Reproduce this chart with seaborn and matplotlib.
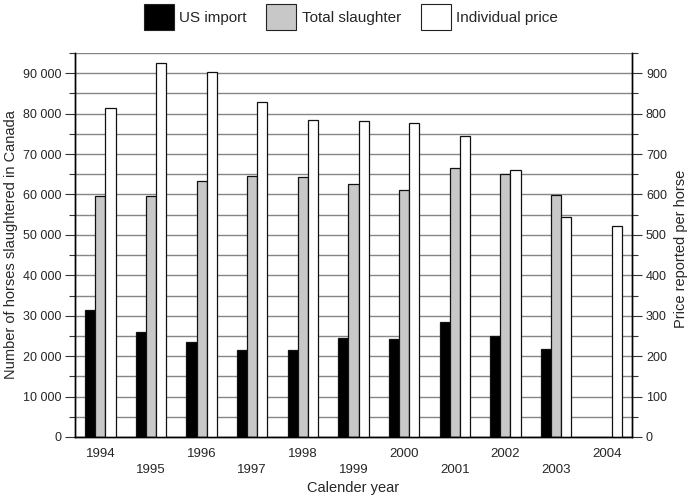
import matplotlib
matplotlib.use("Agg")
import matplotlib.pyplot as plt
from matplotlib.patches import Patch
from matplotlib.ticker import FuncFormatter, MultipleLocator, FixedLocator
import numpy as np
import pandas as pd
import seaborn as sns

years = ["1994", "1995", "1996", "1997", "1998", "1999", "2000", "2001", "2002", "2003", "2004"]
us_import = [31400, 26000, 23600, 21400, 21400, 24400, 24300, 28500, 25000, 21700, np.nan]
total_slaughter = [59700, 59600, 63400, 64600, 64300, 62500, 61200, 66500, 65000, 59900, np.nan]
individual_price = [814, 924, 903, 828, 783, 781, 778, 744, 661, 544, 521]

series = ["US import", "Total slaughter", "Individual price"]
colors = ["#000000", "#c8c8c8", "#ffffff"]

sns.set_style("white")
plt.rcParams["font.family"] = ["Liberation Sans", "DejaVu Sans"]

df_left = pd.DataFrame({
    "year": years * 2,
    "series": [series[0]] * len(years) + [series[1]] * len(years),
    "value": us_import + total_slaughter,
})
df_right = pd.DataFrame({
    "year": years,
    "series": [series[2]] * len(years),
    "value": individual_price,
})

fig = plt.figure(figsize=(6.92, 4.98), dpi=100)
ax = fig.add_axes([0.1084, 0.1225, 0.8049, 0.7711])
ax2 = ax.twinx()

ax.set_ylim(0, 95000)
ax2.set_ylim(0, 950)
ax.yaxis.set_major_locator(MultipleLocator(10000))
ax.yaxis.set_minor_locator(MultipleLocator(5000))
ax2.yaxis.set_major_locator(MultipleLocator(100))
ax2.yaxis.set_minor_locator(MultipleLocator(50))
ax.grid(True, which="both", axis="y", color="#868686", linewidth=1.0)
ax.set_axisbelow(True)

pal = dict(zip(series, colors))
sns.barplot(data=df_left, x="year", y="value", hue="series", hue_order=series,
            order=years, palette=pal, width=0.6, dodge=True, edgecolor="#111111", linewidth=0.9,
            ax=ax, legend=False, errorbar=None)
sns.barplot(data=df_right, x="year", y="value", hue="series", hue_order=series,
            order=years, palette=pal, width=0.6, dodge=True, edgecolor="#111111", linewidth=0.9,
            ax=ax2, legend=False, errorbar=None)
ax.set_xlim(-0.5, len(years) - 0.5)
ax2.set_xlim(-0.5, len(years) - 0.5)
ax.set_ylim(0, 95000)
ax2.set_ylim(0, 950)

fmt = FuncFormatter(lambda v, p: f"{int(v):,}".replace(",", " "))
ax.yaxis.set_major_formatter(fmt)
ax2.yaxis.set_major_formatter(FuncFormatter(lambda v, p: f"{int(v)}"))

ax.set_xticks(range(len(years)))
ax.set_xticklabels([y if i % 2 == 0 else "\n" + y for i, y in enumerate(years)], linespacing=1.45)
ax.xaxis.set_minor_locator(FixedLocator(np.arange(-0.5, len(years), 1.0)))
ax.tick_params(axis="x", which="major", length=0, pad=8, labelsize=9.5)
ax.tick_params(axis="x", which="minor", length=5, width=0.8, color="#555555", direction="out")
ax.tick_params(axis="y", which="major", length=7, width=0.8, direction="out", color="#333333", left=True, labelsize=9, pad=3)
ax.tick_params(axis="y", which="minor", length=4, width=0.8, direction="out", color="#333333", left=True)
ax2.tick_params(axis="y", which="major", length=7, width=0.8, direction="out", color="#333333", right=True, labelsize=9, pad=3)
ax2.tick_params(axis="y", which="minor", length=4, width=0.8, direction="out", color="#333333", right=True)

for a in (ax, ax2):
    a.spines["top"].set_visible(False)
    for s in ("left", "right", "bottom"):
        a.spines[s].set_color("black")
        a.spines[s].set_linewidth(1.0)

ax.set_xlabel("Calender year", fontsize=10.5)
ax.xaxis.set_label_coords(0.5, -0.115)
ax.set_ylabel("Number of horses slaughtered in Canada", fontsize=10.5)
ax.yaxis.set_label_coords(-0.103, 0.5)
ax2.set_ylabel("Price reported per horse", fontsize=10.5, rotation=90)
ax2.yaxis.set_label_coords(1.076, 0.49)

handles = [Patch(facecolor=c, edgecolor="#222222", linewidth=0.8, label=s) for s, c in zip(series, colors)]
fig.legend(handles=handles, loc="upper center", bbox_to_anchor=(0.507, 1.02), ncol=3,
           frameon=False, fontsize=11, handlelength=1.95, handleheight=2.3,
           handletextpad=0.35, columnspacing=1.3)

fig.savefig("out.png", dpi=100)
